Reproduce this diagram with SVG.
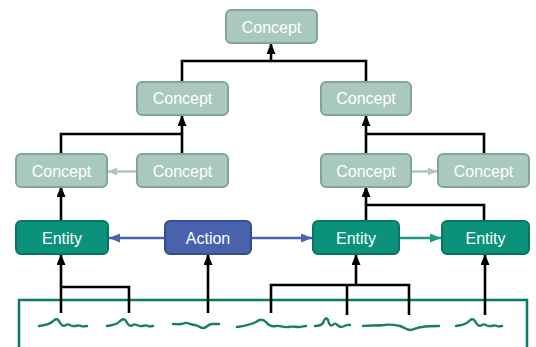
<svg xmlns="http://www.w3.org/2000/svg" width="536" height="347" viewBox="0 0 536 347">
<style>
.concept{fill:#a9c9bf;stroke:#80a69a;stroke-width:2}
.entity{fill:#0a927b;stroke:#0b735f;stroke-width:2}
.action{fill:#4862ad;stroke:#364d91;stroke-width:2}
.lbl{font-family:"Liberation Sans",Arial,sans-serif;font-size:16px;fill:#ffffff;text-anchor:middle}
.bk{fill:none;stroke:#000;stroke-width:2.6;stroke-linejoin:miter}
.bka{fill:none;stroke:#000;stroke-width:2.6;marker-end:url(#ab)}
.lt{fill:none;stroke:#a9c9bf;stroke-width:2.5;marker-end:url(#al)}
.bl{fill:none;stroke:#4862ad;stroke-width:2.5;marker-end:url(#abl)}
.tl{fill:none;stroke:#1a9a82;stroke-width:2.5;marker-end:url(#at)}
.sq{fill:none;stroke:#1a7d69;stroke-width:2.4;stroke-linecap:round;stroke-linejoin:round}
</style>
<defs>
<marker id="ab" markerUnits="userSpaceOnUse" markerWidth="11" markerHeight="9" refX="10" refY="4.5" orient="auto"><path d="M0,0 L11,4.5 L0,9 z" fill="#000"/></marker>
<marker id="al" markerUnits="userSpaceOnUse" markerWidth="9" markerHeight="8" refX="9" refY="4" orient="auto"><path d="M0,0 L9,4 L0,8 z" fill="#a9c9bf"/></marker>
<marker id="abl" markerUnits="userSpaceOnUse" markerWidth="11" markerHeight="9" refX="11" refY="4.5" orient="auto"><path d="M0,0 L11,4.5 L0,9 z" fill="#4862ad"/></marker>
<marker id="at" markerUnits="userSpaceOnUse" markerWidth="11" markerHeight="9" refX="11" refY="4.5" orient="auto"><path d="M0,0 L11,4.5 L0,9 z" fill="#1a9a82"/></marker>
</defs>

<rect id="text-box" x="19" y="300" width="508" height="60" fill="none" stroke="#0b7a66" stroke-width="2.5"/>

<g id="squiggles">
<path class="sq" d="M39,326 C44,325 48,325 52,322 C55,319 57,318 59,321 C61,325 63,327 66,325 C68,323 70,326 73,326 C76,327 78,324 81,326 C83,327 85,326 87,326"/>
<path class="sq" d="M107,326 C112,325 116,325 119,322 C122,319 124,318 126,321 C128,325 130,327 133,325 C135,323 137,326 140,326 C143,327 145,324 148,326 C150,327 151,326 153,326"/>
<path class="sq" d="M173,324 C178,324 181,325 185,323 C188,322 191,325 195,325 C198,325 199,328 203,328 C207,328 208,324 212,324 C215,324 217,324 219,324"/>
<path class="sq" d="M237,327 C244,326 250,325 256,322 C260,319 263,319 266,322 C269,326 272,327 276,326 C280,325 283,328 288,327 C292,326 295,327 299,327 C302,327 304,326 306,326"/>
<path class="sq" d="M315,326 C318,326 321,326 323,323 C325,318 326,317 328,320 C329,325 331,327 334,324 C336,322 338,327 341,327 C344,327 346,324 350,325"/>
<path class="sq" d="M363,326 C370,325 377,326 384,325 C390,324 395,325 400,326 C404,327 406,330 410,330 C414,330 417,327 422,327 C428,326 433,326 439,326"/>
<path class="sq" d="M456,326 C461,325 465,325 468,322 C471,319 473,318 475,321 C477,325 479,327 482,325 C484,323 486,326 489,326 C492,327 494,324 497,326 C499,327 500,326 502,326"/>
</g>

<g id="connectors">
<path class="bk" d="M182,82 V61 H366 V82"/>
<path class="bka" d="M271,61 V44"/>
<path class="bk" d="M61,153 V134 H182"/>
<path class="bka" d="M182,153 V116"/>
<path class="bk" d="M484,153 V134 H366"/>
<path class="bka" d="M366,153 V116"/>
<path class="lt" d="M137,171.5 H108"/>
<path class="lt" d="M411,171.5 H437"/>
<path class="bka" d="M61,221 V187"/>
<path class="bk" d="M484,221 V205 H366"/>
<path class="bka" d="M366,221 V187"/>
<path class="bl" d="M165,238 H109"/>
<path class="bl" d="M251,238 H312"/>
<path class="tl" d="M399,238 H441"/>
<path class="bk" d="M129,313 V287 H61"/>
<path class="bka" d="M61,313 V255"/>
<path class="bka" d="M208,313 V255"/>
<path class="bk" d="M271,313 V285 H409 V315 M347,285 V315"/>
<path class="bka" d="M356,285 V255"/>
<path class="bka" d="M485,315 V255"/>
</g>

<g id="concept-top"><rect class="concept" x="226" y="10" width="91" height="33" rx="5"/><text class="lbl" x="271.5" y="32.5">Concept</text></g>
<g id="concept-l2"><rect class="concept" x="137" y="82" width="91" height="33" rx="5"/><text class="lbl" x="182.5" y="104">Concept</text></g>
<g id="concept-r2"><rect class="concept" x="321" y="82" width="90" height="33" rx="5"/><text class="lbl" x="366" y="104">Concept</text></g>
<g id="concept-l3a"><rect class="concept" x="16" y="154" width="91" height="33" rx="5"/><text class="lbl" x="61.5" y="176.5">Concept</text></g>
<g id="concept-l3b"><rect class="concept" x="137" y="154" width="91" height="33" rx="5"/><text class="lbl" x="182.5" y="176.5">Concept</text></g>
<g id="concept-r3a"><rect class="concept" x="321" y="154" width="90" height="33" rx="5"/><text class="lbl" x="366" y="176.5">Concept</text></g>
<g id="concept-r3b"><rect class="concept" x="438" y="154" width="91" height="33" rx="5"/><text class="lbl" x="483.5" y="176.5">Concept</text></g>
<g id="entity-l"><rect class="entity" x="16" y="221" width="92" height="33" rx="5"/><text class="lbl" x="62" y="243.5">Entity</text></g>
<g id="action"><rect class="action" x="165" y="221" width="86" height="33" rx="5"/><text class="lbl" x="208" y="243.5">Action</text></g>
<g id="entity-m"><rect class="entity" x="313" y="221" width="86" height="33" rx="5"/><text class="lbl" x="356" y="243.5">Entity</text></g>
<g id="entity-r"><rect class="entity" x="442" y="221" width="87" height="33" rx="5"/><text class="lbl" x="485.5" y="243.5">Entity</text></g>
</svg>
